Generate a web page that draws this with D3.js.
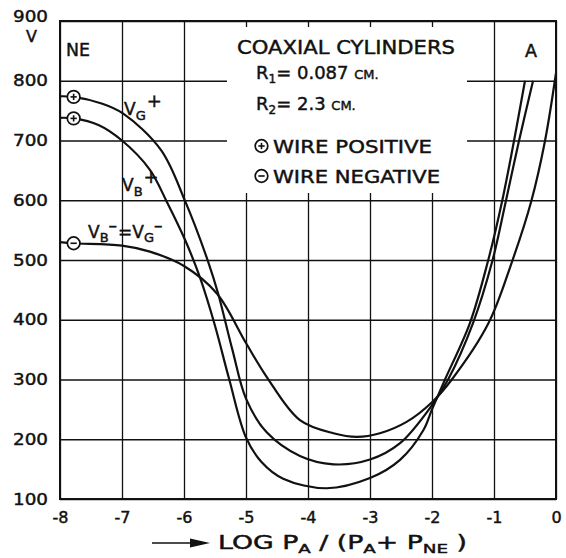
<!DOCTYPE html>
<html><head><meta charset="utf-8">
<script src="https://cdn.jsdelivr.net/npm/d3@7"></script>
<style>
html,body{margin:0;padding:0;background:#fff;}
svg{display:block;}
text{font-family:"DejaVu Sans",sans-serif;fill:#111;stroke:#111;stroke-width:0.45px;}
</style></head>
<body>
<script>
// ---- data ----
const xTicks = [-8,-7,-6,-5,-4,-3,-2,-1,0];
const yTicks = [100,200,300,400,500,600,700,800,900];
const vgPlus = [[-8,774],[-7.78,773],[-7.33,762],[-6.98,745],[-6.37,684],[-5.98,598],[-5.61,497],[-5.45,444],[-5.22,350],[-5.0,268],[-4.67,212],[-4.13,172],[-3.59,158],[-3.0,166],[-2.52,193],[-2.0,257],[-1.74,300],[-1.34,394],[-1.03,497],[-0.81,598],[-0.60,698],[-0.37,800]];
const vbPlus = [[-8,738],[-7.78,737],[-7.38,726],[-7.0,700],[-6.55,651],[-6.28,598],[-5.98,533],[-5.74,470],[-5.5,390],[-5.27,300],[-5.0,203],[-4.75,162],[-4.4,134],[-3.7,118],[-3.0,135],[-2.52,165],[-2.14,215],[-2.0,250],[-1.79,300],[-1.39,394],[-1.10,497],[-0.87,598],[-0.68,698],[-0.50,800]];
const vbMinus = [[-8,530],[-7.78,528],[-7.0,524],[-6.55,514],[-6.0,490],[-5.47,444],[-5.0,361],[-4.67,305],[-4.13,232],[-3.59,210],[-3.21,204],[-2.84,210],[-2.41,229],[-2.0,262],[-1.68,300],[-1.09,394],[-0.71,497],[-0.40,598],[-0.18,698],[0,813]];
const markerX = -7.78;
const markers = [{v:773,s:"+"},{v:737,s:"+"},{v:528,s:"-"}];

// ---- layout ----
const W = 566, H = 558;
const x = d3.scaleLinear().domain([-8,0]).range([60,556]);
const y = d3.scaleLinear().domain([100,900]).range([499,21]);

const svg = d3.select("body").append("svg").attr("width",W).attr("height",H);

// grid via axes
const gx = svg.append("g").attr("transform",`translate(0,${y(100)})`)
  .call(d3.axisBottom(x).tickValues(xTicks).tickSize(-(y(100)-y(900))).tickPadding(9).tickFormat(d=>d===0?"0":"-"+Math.abs(d)));
const gy = svg.append("g").attr("transform",`translate(${x(-8)},0)`)
  .call(d3.axisLeft(y).tickValues(yTicks).tickSize(-(x(0)-x(-8))).tickPadding(12));
[gx,gy].forEach(g=>{
  g.select(".domain").remove();
  g.selectAll(".tick line").attr("stroke","#111").attr("stroke-width",1.3);
  g.selectAll(".tick text").attr("font-size",16).attr("fill","#111").style("font-family","DejaVu Sans");
});
gx.selectAll(".tick text").attr("dy","0.95em");
gy.selectAll(".tick text").attr("textLength",35).attr("lengthAdjust","spacingAndGlyphs");
gy.selectAll(".tick").filter(d=>d===900).select("text").attr("dy","0.0em");

// white box behind legend
svg.append("rect").attr("x",227).attr("y",27).attr("width",240).attr("height",166).attr("fill","#fff");

// frame
svg.append("rect").attr("x",x(-8)).attr("y",y(900)).attr("width",x(0)-x(-8)).attr("height",y(100)-y(900))
  .attr("fill","none").attr("stroke","#111").attr("stroke-width",2);

// curves
const line = d3.line().x(d=>x(d[0])).y(d=>y(d[1])).curve(d3.curveCatmullRom.alpha(0.5));
[vgPlus,vbPlus,vbMinus].forEach(s=>{
  svg.append("path").attr("d",line(s)).attr("fill","none").attr("stroke","#111").attr("stroke-width",2.2);
});

// markers
function sym(g,cx,cy,r,s){
  g.append("circle").attr("cx",cx).attr("cy",cy).attr("r",r).attr("fill","#fff").attr("stroke","#111").attr("stroke-width",1.7);
  g.append("line").attr("x1",cx-r*0.5).attr("x2",cx+r*0.5).attr("y1",cy).attr("y2",cy).attr("stroke","#111").attr("stroke-width",1.6);
  if(s==="+") g.append("line").attr("x1",cx).attr("x2",cx).attr("y1",cy-r*0.5).attr("y2",cy+r*0.5).attr("stroke","#111").attr("stroke-width",1.6);
}
markers.forEach(m=>sym(svg,x(markerX),y(m.v),6.3,m.s));

// texts
function txt(xp,yp,str,size,len){
  const t = svg.append("text").attr("x",xp).attr("y",yp).attr("font-size",size).text(str);
  if(len) t.attr("textLength",len).attr("lengthAdjust","spacingAndGlyphs");
  return t;
}
txt(26,42,"V",16);
txt(66,56,"NE",18,24);
txt(525,57,"A",17,12);
txt(237,54,"COAXIAL  CYLINDERS",19,218);

// R1 / R2 lines
const r1 = svg.append("text").attr("x",256).attr("y",79).attr("font-size",18);
r1.append("tspan").text("R");
r1.append("tspan").attr("font-size",12).attr("dy",4).text("1");
r1.append("tspan").attr("dy",-4).text("= 0.087 ");
r1.append("tspan").attr("font-size",13).text("CM.");
const r2 = svg.append("text").attr("x",256).attr("y",110).attr("font-size",18);
r2.append("tspan").text("R");
r2.append("tspan").attr("font-size",12).attr("dy",4).text("2");
r2.append("tspan").attr("dy",-4).text("= 2.3 ");
r2.append("tspan").attr("font-size",13).text("CM.");
sym(svg,261.5,146,6.3,"+");
sym(svg,261.5,176,6.3,"-");
txt(273,153,"WIRE POSITIVE",18,159);
txt(273,183,"WIRE NEGATIVE",18,167);

// curve labels
function vlab(xp,yp,sub,sup){
  const t = svg.append("text").attr("x",xp).attr("y",yp).attr("font-size",17);
  t.append("tspan").text("V");
  t.append("tspan").attr("font-size",13).attr("dy",5).text(sub);
  t.append("tspan").attr("font-size",18).attr("dy",-13).attr("dx",1).text(sup);
  return t;
}
vlab(124,115,"G","+");
vlab(122,191,"B","+");
const lb = svg.append("text").attr("x",88).attr("y",238).attr("font-size",17);
lb.append("tspan").text("V");
lb.append("tspan").attr("font-size",13).attr("dy",4).text("B");
lb.append("tspan").attr("dy",-11).text("–");
lb.append("tspan").attr("dy",7).attr("dx",1).text("=");
lb.append("tspan").attr("dy",0).text("V");
lb.append("tspan").attr("font-size",13).attr("dy",4).text("G");
lb.append("tspan").attr("dy",-11).text("–");

// x-axis label with arrow
svg.append("line").attr("x1",152).attr("x2",196).attr("y1",543).attr("y2",543).attr("stroke","#111").attr("stroke-width",1.6);
svg.append("path").attr("d","M190,538.5 L210,543 L190,547.5 Z").attr("fill","#111");
const xl = svg.append("text").attr("x",218).attr("y",549).attr("font-size",19).attr("textLength",249).attr("lengthAdjust","spacingAndGlyphs");
xl.append("tspan").text("LOG  P");
xl.append("tspan").attr("font-size",13).attr("dy",4).text("A");
xl.append("tspan").attr("dy",-4).text(" / (P");
xl.append("tspan").attr("font-size",13).attr("dy",4).text("A");
xl.append("tspan").attr("dy",-4).text("+ P");
xl.append("tspan").attr("font-size",13).attr("dy",4).text("NE");
xl.append("tspan").attr("dy",-4).text(" )");
</script>
</body></html>
